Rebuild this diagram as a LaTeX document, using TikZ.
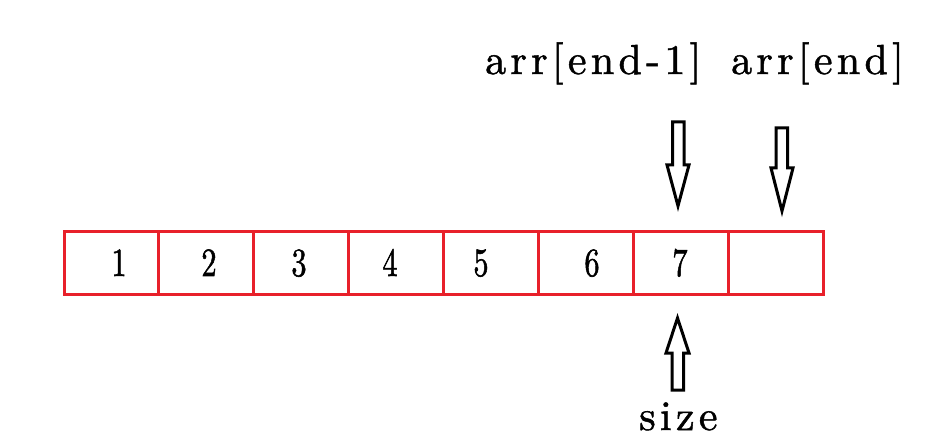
\documentclass[tikz,border=0pt]{standalone}
\usepackage{fontspec}
\usepackage{graphicx}
\newfontfamily\labelfont[LetterSpace=10.2,FakeBold=1.2]{lmroman10-regular.otf}
\newfontfamily\digitfont[FakeBold=1.5]{lmroman10-regular.otf}
\definecolor{cellred}{RGB}{232,32,42}
\tikzset{
  cellbox/.style={draw=cellred, line width=3pt, minimum width=94.9pt, minimum height=63pt, inner sep=0pt, outer sep=0pt},
  digit/.style={inner sep=0pt, anchor=base, font=\fontsize{40}{40}\digitfont},
  label/.style={inner sep=0pt, anchor=base west, font=\fontsize{42}{42}\labelfont},
  blockarrow/.style={draw=black, line width=3pt, fill=white, line join=miter}
}
\newcommand{\narrowdigit}[1]{\scalebox{0.76}[1]{#1}}
\begin{document}
\begin{tikzpicture}[x=1pt,y=-1pt]
\useasboundingbox (0,0) rectangle (937,446);
% cells
\foreach \i in {1,...,8} {
  \node[cellbox] (c\i) at ({64+94.9*(\i-0.5)},263.5) {};
}
% digits
\node[digit] (d1) at (119,276) {\narrowdigit{1}};
\node[digit] (d2) at (209,276) {\narrowdigit{2}};
\node[digit] (d3) at (299,276) {\narrowdigit{3}};
\node[digit] (d4) at (390,276) {\narrowdigit{4}};
\node[digit] (d5) at (481,276) {\narrowdigit{5}};
\node[digit] (d6) at (592,276) {\narrowdigit{6}};
\node[digit] (d7) at (680,276) {\narrowdigit{7}};
% labels
\node[label] (l1) at (485,74) {arr[end-1]};
\node[label] (l2) at (731,74) {arr[end]};
\node[label] (l3) at (639,430) {size};
% down arrow to arr[end-1]
\draw[blockarrow] (672.5,122) -- (684,122) -- (684,165) -- (689,165) -- (678,206) -- (667,165) -- (672.5,165) -- cycle;
% down arrow to arr[end]
\draw[blockarrow] (776,128) -- (787.5,128) -- (787.5,168) -- (793,168) -- (782,211) -- (771,168) -- (776,168) -- cycle;
% up arrow from size
\draw[blockarrow] (672,390) -- (683.5,390) -- (683.5,353) -- (689,353) -- (677.5,318) -- (666,353) -- (672,353) -- cycle;
\end{tikzpicture}
\end{document}
